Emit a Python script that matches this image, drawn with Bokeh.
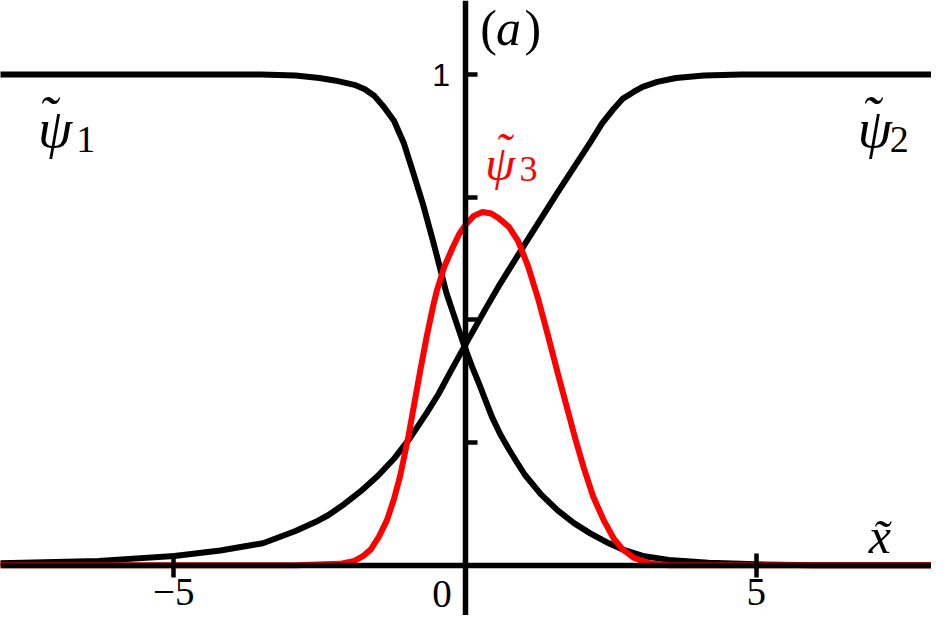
from bokeh.plotting import figure
from bokeh.models import LinearAxis, FixedTicker, Range1d, Label
from bokeh.embed import file_html
from bokeh.resources import INLINE

# ---- data ----
psi1_x = [-8.0, -3.5, -2.91, -2.5, -2.24, -1.90, -1.72, -1.56, -1.40, -1.22, -1.05,
          -0.89, -0.72, -0.55, -0.43, -0.32, -0.15, -0.01, 0.12, 0.24, 0.46, 0.60,
          0.75, 0.90, 1.03, 1.30, 1.59, 1.87, 2.15, 2.43, 2.71, 3.05, 3.50, 4.18,
          5.0, 6.0, 8.0]
psi1_y = [1.0, 1.0, 0.998, 0.993, 0.988, 0.979, 0.970, 0.957, 0.935, 0.906, 0.860,
          0.800, 0.735, 0.661, 0.606, 0.555, 0.495, 0.446, 0.405, 0.370, 0.303, 0.268,
          0.237, 0.208, 0.184, 0.145, 0.112, 0.086, 0.065, 0.047, 0.032, 0.019, 0.011,
          0.005, 0.002, 0.0, 0.0]

psi2_x = [-8.0, -6.29, -4.99, -4.20, -3.47, -2.91, -2.57, -2.35, -2.07, -1.79, -1.50,
          -1.22, -0.94, -0.66, -0.45, -0.27, -0.01, 0.35, 0.60, 1.03, 1.59, 2.15,
          2.35, 2.55, 2.71, 2.90, 3.05, 3.30, 3.62, 4.10, 4.74, 8.0]
psi2_y = [0.004, 0.009, 0.019, 0.030, 0.045, 0.070, 0.088, 0.102, 0.125, 0.151, 0.182,
          0.217, 0.260, 0.310, 0.350, 0.390, 0.446, 0.522, 0.573, 0.655, 0.760, 0.862,
          0.900, 0.930, 0.951, 0.965, 0.975, 0.985, 0.993, 0.998, 1.0, 1.0]

psi3_x = [-8.0, -2.91, -2.40, -2.15, -1.90, -1.76, -1.62, -1.48, -1.34, -1.22, -1.11,
          -0.97, -0.87, -0.77, -0.66, -0.55, -0.49, -0.35, -0.21, -0.10, 0.01, 0.15,
          0.30, 0.45, 0.58, 0.75, 0.91, 1.08, 1.25, 1.42, 1.60, 1.76, 1.90, 2.04,
          2.20, 2.38, 2.55, 2.71, 2.90, 3.17, 3.50, 8.0]
psi3_y = [0.0, 0.0, 0.002, 0.003, 0.009, 0.018, 0.032, 0.058, 0.092, 0.135, 0.184,
          0.264, 0.330, 0.396, 0.465, 0.527, 0.557, 0.610, 0.648, 0.675, 0.694, 0.712,
          0.720, 0.717, 0.707, 0.690, 0.661, 0.610, 0.545, 0.470, 0.388, 0.317, 0.255,
          0.198, 0.140, 0.092, 0.055, 0.032, 0.015, 0.004, 0.0, 0.0]

x_ticks = [-5, 5]
x_tick_labels = {-5: "\u22125", 5: "5"}
y_ticks = [0.25, 0.5, 0.75, 1.0]
y_tick_labels = {0.25: "", 0.5: "", 0.75: "", 1.0: "1"}

p = figure(width=931, height=615,
           x_range=Range1d(-7.975, 8.008), y_range=Range1d(-0.1023, 1.1509),
           x_axis_type=None, y_axis_type=None,
           toolbar_location=None, output_backend="svg", min_border=0)
p.outline_line_color = None
p.background_fill_color = "white"
p.border_fill_color = "white"

p.line(psi1_x, psi1_y, line_color="black", line_width=6, line_join="round")
p.line(psi2_x, psi2_y, line_color="black", line_width=6, line_join="round")
p.line(psi3_x, psi3_y, line_color="#ff0000", line_width=6, line_join="round")

xaxis = LinearAxis(fixed_location=0, ticker=FixedTicker(ticks=x_ticks),
                   major_label_overrides=x_tick_labels)
xaxis.axis_line_width = 5.5
xaxis.axis_line_color = "black"
xaxis.major_tick_line_width = 4.5
xaxis.major_tick_in = 12
xaxis.major_tick_out = 12
xaxis.minor_tick_line_color = None
xaxis.major_label_standoff = 2
xaxis.major_label_text_font = "Liberation Serif"
xaxis.major_label_text_font_size = "39px"
xaxis.major_label_text_color = "black"
p.add_layout(xaxis, "below")

yaxis = LinearAxis(fixed_location=0, ticker=FixedTicker(ticks=y_ticks),
                   major_label_overrides=y_tick_labels)
yaxis.axis_line_width = 5.5
yaxis.axis_line_color = "black"
yaxis.major_tick_line_width = 4.5
yaxis.major_tick_in = 12
yaxis.major_tick_out = 0
yaxis.minor_tick_line_color = None
yaxis.major_label_standoff = 15
yaxis.major_label_text_font = "Liberation Sans"
yaxis.major_label_text_font_size = "32px"
yaxis.major_label_text_color = "black"
p.add_layout(yaxis, "left")

serif = "Liberation Serif"

def lab(x, y, text, size, color="black", style="italic", align="left"):
    p.add_layout(Label(x=x, y=y, text=text, text_font=serif, text_font_size=size,
                       text_font_style=style, text_color=color, text_align=align,
                       text_baseline="alphabetic"))

# origin label
lab(-0.397, -0.058, "0", "39px", style="normal", align="center")
# panel tag
lab(0.262, 1.094, "(", "50px", style="normal")
lab(0.53, 1.094, "a", "50px")
lab(1.02, 1.094, ")", "50px", style="normal")
# curve labels
lab(-7.33, 0.891, "\u03c8", "55px")
lab(-7.165, 0.916, "\u02dc", "55px", align="center")
lab(-6.675, 0.867, "1", "38px", style="normal")
lab(6.743, 0.891, "\u03c8", "55px")
lab(6.962, 0.916, "\u02dc", "55px", align="center")
lab(7.29, 0.867, "2", "38px", style="normal")
lab(0.346, 0.819, "\u03c8", "48px", color="#ff0000")
lab(0.65, 0.846, "\u02dc", "48px", color="#ff0000", align="center")
lab(0.937, 0.807, "3", "36px", color="#ff0000", style="normal")
# x-axis label
lab(6.93, 0.059, "x\u0303", "50px")

open("out.html", "w").write(file_html(p, INLINE))
